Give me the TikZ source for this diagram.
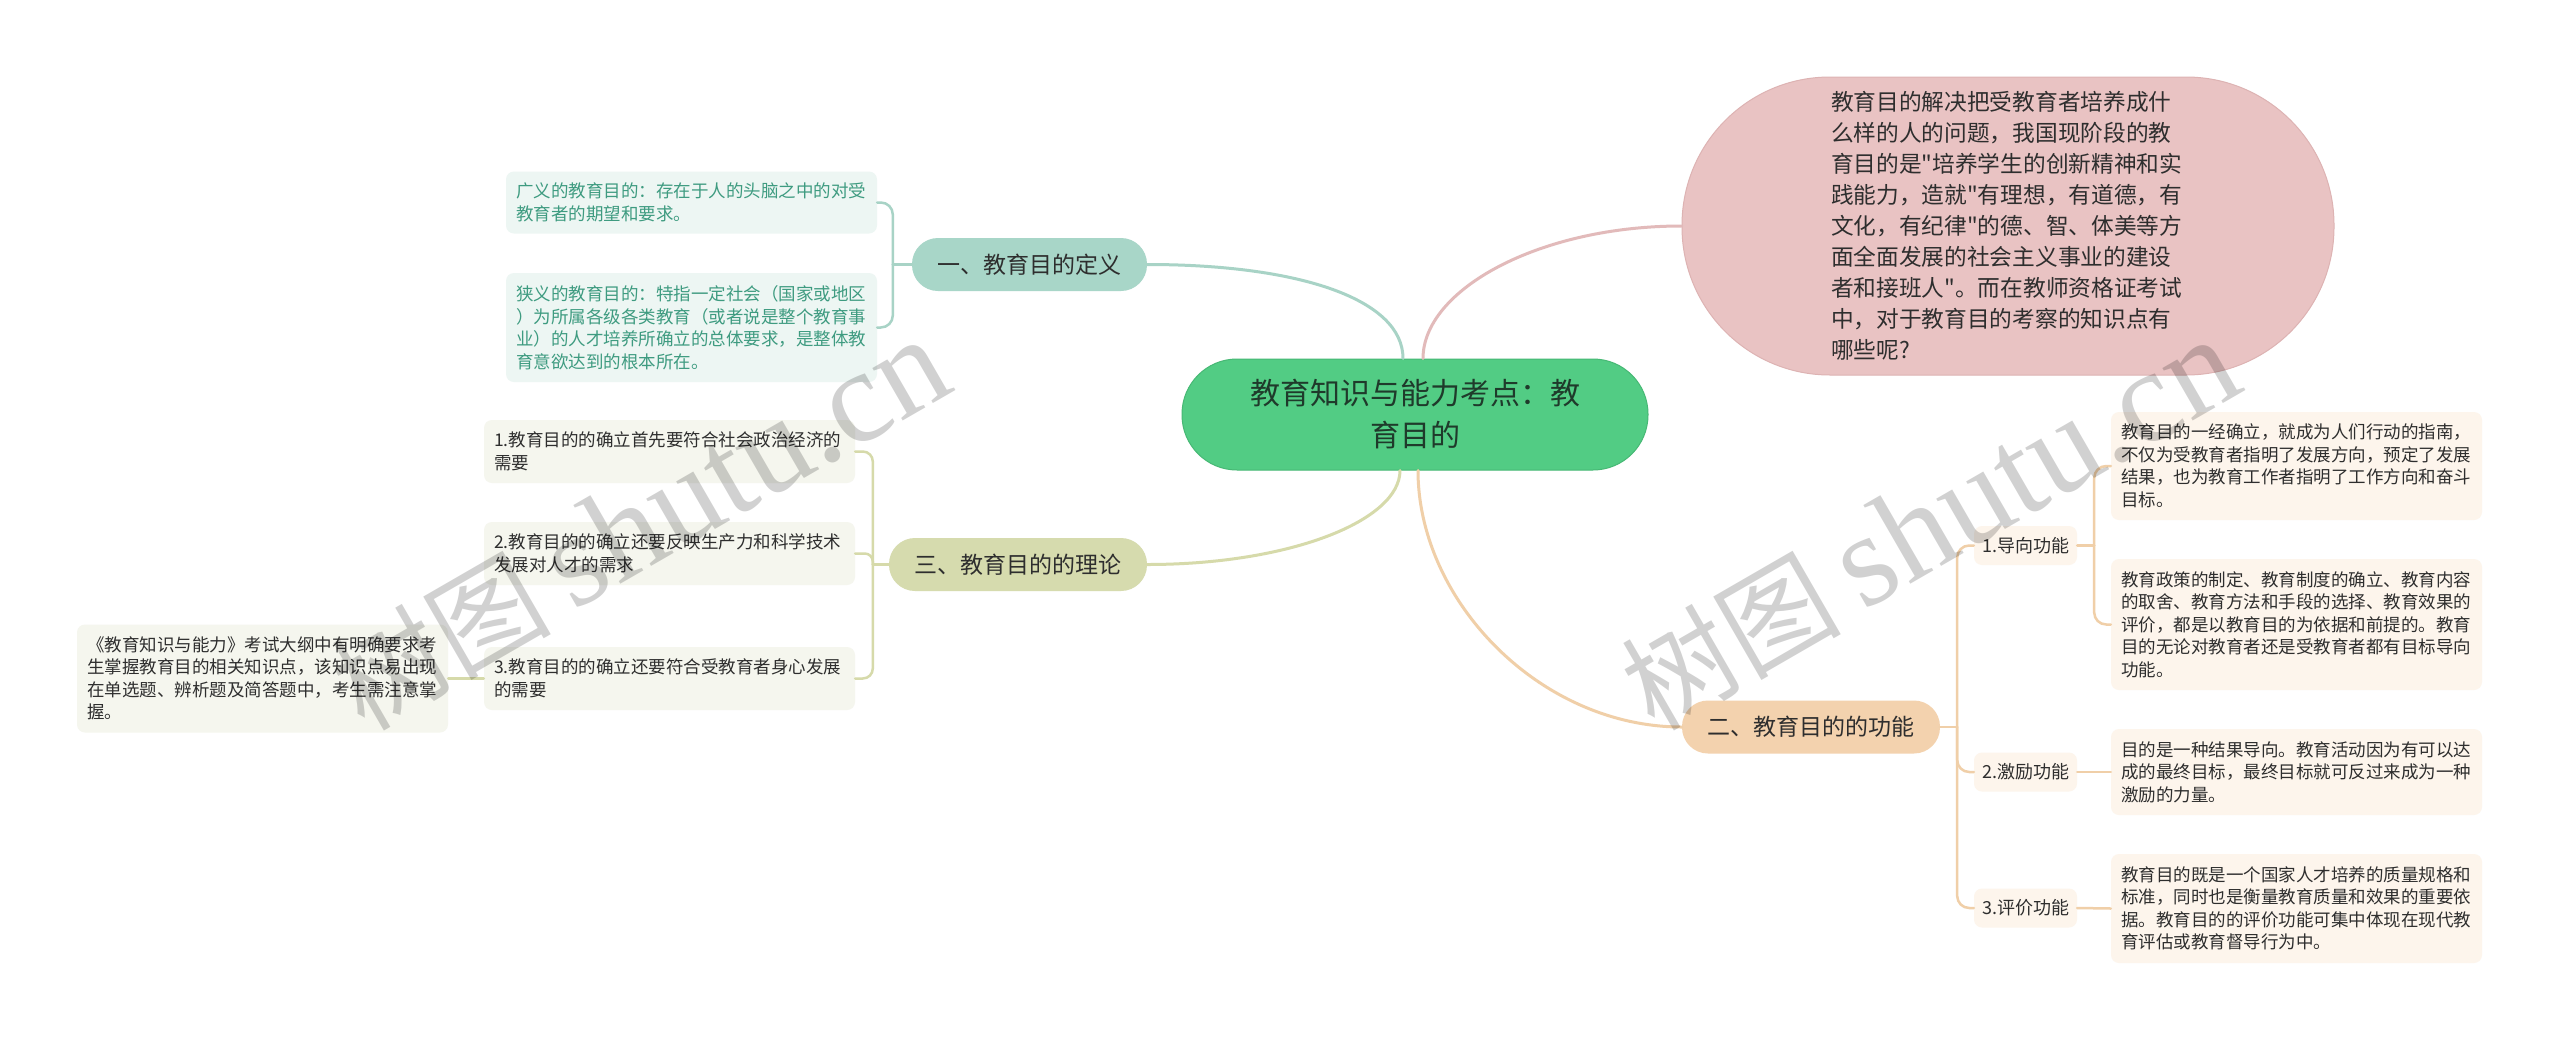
\documentclass[tikz,border=0pt]{standalone}
\usepackage{fontspec}
\setmainfont{Noto Sans CJK SC}[Ligatures=TeXOff]
\newfontfamily\wmlatin{Liberation Serif}
\usetikzlibrary{calc}
\definecolor{cgreen}{HTML}{52CC84}
\definecolor{cgreenb}{HTML}{46B874}
\definecolor{cpink}{HTML}{E9C3C3}
\definecolor{cpinkb}{HTML}{DDB3B3}
\definecolor{bteal}{HTML}{A8D6C8}
\definecolor{bolive}{HTML}{D6DBAE}
\definecolor{bpeach}{HTML}{F3D2AE}
\definecolor{lteal}{HTML}{EDF6F3}
\definecolor{lolive}{HTML}{F5F6EE}
\definecolor{lpeach}{HTML}{FDF5EC}
\definecolor{tteal}{HTML}{3E9B80}
\definecolor{tdark}{HTML}{2E2E2E}
\definecolor{tctr}{HTML}{1F3A2B}
\definecolor{kteal}{HTML}{A8D3C6}
\definecolor{kpink}{HTML}{E2BABA}
\definecolor{kolive}{HTML}{D6DAAA}
\definecolor{kpeach}{HTML}{F0CFA8}
\begin{document}
\begin{tikzpicture}[x=1pt,y=-1pt,
  leafbox/.style={rounded corners=8pt, inner xsep=10pt, inner ysep=0pt,
    text width=351pt, align=left, anchor=center,
    font=\fontsize{17.5pt}{22.5pt}\selectfont},
  tealleaf/.style={leafbox, fill=lteal, text=tteal},
  oliveleaf/.style={leafbox, fill=lolive, text=tdark},
  peachleaf/.style={leafbox, fill=lpeach, text=tdark},
  branchbox/.style={rounded corners=26pt, minimum height=53pt, inner xsep=0pt,
    text=tdark, font=\fontsize{23pt}{28pt}\selectfont},
  midbox/.style={rounded corners=8pt, fill=lpeach, minimum width=103pt,
    minimum height=39pt, inner xsep=0pt, text=tdark,
    font=\fontsize{18pt}{22pt}\selectfont},
  mainline/.style={line width=3pt, line cap=round},
  brline/.style={line width=2.5pt, line cap=round},
  wmark/.style={rotate=30, text=black, text opacity=0.18, inner sep=0pt}
]
\fill[white] (0,0) rectangle (2560,1039);
\useasboundingbox (0,0) rectangle (2560,1039);

% central node
\node[rounded corners=55pt, minimum width=466pt, minimum height=111pt,
  fill=cgreen, draw=cgreenb, line width=1pt, align=center, text=tctr,
  font=\fontsize{30pt}{42pt}\selectfont] (ctr) at (1415,414.5)
  {教育知识与能力考点：教\\育目的};

% pink intro node
\node[rounded corners=148pt, minimum width=652pt, minimum height=298pt,
  fill=cpink, draw=cpinkb, line width=1pt, text width=354pt, align=left,
  text=tdark, font=\fontsize{22.7pt}{31pt}\selectfont] (pk) at (2008,226)
  {教育目的解决把受教育者培养成什\\
   么样的人的问题，我国现阶段的教\\
   育目的是"培养学生的创新精神和实\\
   践能力，造就"有理想，有道德，有\\
   文化，有纪律"的德、智、体美等方\\
   面全面发展的社会主义事业的建设\\
   者和接班人"。而在教师资格证考试\\
   中，对于教育目的考察的知识点有\\
   哪些呢?};

% branch nodes
\node[branchbox, fill=bteal, minimum width=235pt] (b1) at (1029.5,264.5) {一、教育目的定义};
\node[branchbox, fill=bolive, minimum width=258pt] (b3) at (1018,564.5) {三、教育目的的理论};
\node[branchbox, fill=bpeach, minimum width=258pt] (b2) at (1811,727) {二、教育目的的功能};

% branch 1 leaves
\node[tealleaf, minimum height=62pt] (l1a) at (691.5,202.5)
  {广义的教育目的：存在于人的头脑之中的对受\\教育者的期望和要求。};
\node[tealleaf, minimum height=109pt] (l1b) at (691.5,327.5)
  {狭义的教育目的：特指一定社会（国家或地区\\
   ）为所属各级各类教育（或者说是整个教育事\\
   业）的人才培养所确立的总体要求，是整体教\\
   育意欲达到的根本所在。};

% branch 3 leaves
\node[oliveleaf, minimum height=63pt] (l3a) at (669.5,451.5)
  {1.教育目的的确立首先要符合社会政治经济的\\需要};
\node[oliveleaf, minimum height=63pt] (l3b) at (669.5,553.5)
  {2.教育目的的确立还要反映生产力和科学技术\\发展对人才的需求};
\node[oliveleaf, minimum height=63pt] (l3c) at (669.5,678.5)
  {3.教育目的的确立还要符合受教育者身心发展\\的需要};
\node[oliveleaf, minimum height=108pt] (n4) at (262.5,678.5)
  {《教育知识与能力》考试大纲中有明确要求考\\
   生掌握教育目的相关知识点，该知识点易出现\\
   在单选题、辨析题及简答题中，考生需注意掌\\
   握。};

% branch 2 sub nodes
\node[midbox] (n21) at (2025.5,545.5) {1.导向功能};
\node[midbox] (n22) at (2025.5,772) {2.激励功能};
\node[midbox] (n23) at (2025.5,908) {3.评价功能};

% branch 2 leaves
\node[peachleaf, minimum height=108pt] (r1a) at (2296.5,466)
  {教育目的一经确立，就成为人们行动的指南，\\
   不仅为受教育者指明了发展方向，预定了发展\\
   结果，也为教育工作者指明了工作方向和奋斗\\
   目标。};
\node[peachleaf, minimum height=131pt] (r1b) at (2296.5,624.5)
  {教育政策的制定、教育制度的确立、教育内容\\
   的取舍、教育方法和手段的选择、教育效果的\\
   评价，都是以教育目的为依据和前提的。教育\\
   目的无论对教育者还是受教育者都有目标导向\\
   功能。};
\node[peachleaf, minimum height=86pt] (r2) at (2296.5,772)
  {目的是一种结果导向。教育活动因为有可以达\\
   成的最终目标，最终目标就可反过来成为一种\\
   激励的力量。};
\node[peachleaf, minimum height=109pt] (r3) at (2296.5,908.5)
  {教育目的既是一个国家人才培养的质量规格和\\
   标准，同时也是衡量教育质量和效果的重要依\\
   据。教育目的的评价功能可集中体现在现代教\\
   育评估或教育督导行为中。};

% main connectors
\draw[mainline, kteal] ($(ctr.north)+(-12,0)$) .. controls +(0,-59) and +(153,0) .. (b1.east);
\draw[mainline, kpink] ($(ctr.north)+(8,0)$) .. controls +(0,-69) and +(-142,0) .. (pk.west);
\draw[mainline, kolive] ($(ctr.south)+(-15,0)$) .. controls +(0,50) and +(143,0) .. (b3.east);
\draw[mainline, kpeach] ($(ctr.south)+(3,0)$) .. controls +(0,130) and +(-142,0) .. (b2.west);

% branch 1 bracket
\draw[brline, kteal] (b1.west) -- ++(-19,0) coordinate (j1);
\draw[brline, kteal, rounded corners=12pt] (j1) |- (l1a.east);
\draw[brline, kteal, rounded corners=12pt] (j1) |- (l1b.east);

% branch 3 bracket
\draw[brline, kolive] (b3.west) -- ++(-16,0) coordinate (j3);
\draw[brline, kolive, rounded corners=10pt] (j3) |- (l3a.east);
\draw[brline, kolive, rounded corners=8pt] (j3) |- (l3b.east);
\draw[brline, kolive, rounded corners=10pt] (j3) |- (l3c.east);
\draw[brline, kolive] (l3c.west) -- (n4.east);

% branch 2 bracket
\draw[brline, kpeach] (b2.east) -- ++(17,0) coordinate (j2);
\draw[brline, kpeach, rounded corners=12pt] (j2) |- (n21.west);
\draw[brline, kpeach, rounded corners=12pt] (j2) |- (n22.west);
\draw[brline, kpeach, rounded corners=12pt] (j2) |- (n23.west);

% sub-bracket 1
\draw[brline, kpeach] (n21.east) -- ++(17,0) coordinate (j21);
\draw[brline, kpeach, rounded corners=12pt] (j21) |- (r1a.west);
\draw[brline, kpeach, rounded corners=12pt] (j21) |- (r1b.west);
\draw[brline, kpeach] (n22.east) -- (r2.west);
\draw[brline, kpeach] (n23.east) -- (r3.west);

% watermarks
\node[wmark] (wm1) at (640,525)
  {{\fontsize{110pt}{110pt}\selectfont 树图}\hspace{22pt}{\wmlatin\fontsize{132pt}{132pt}\selectfont shutu.cn}};
\node[wmark] (wm2) at (1930,525)
  {{\fontsize{110pt}{110pt}\selectfont 树图}\hspace{22pt}{\wmlatin\fontsize{132pt}{132pt}\selectfont shutu.cn}};
\end{tikzpicture}
\end{document}
